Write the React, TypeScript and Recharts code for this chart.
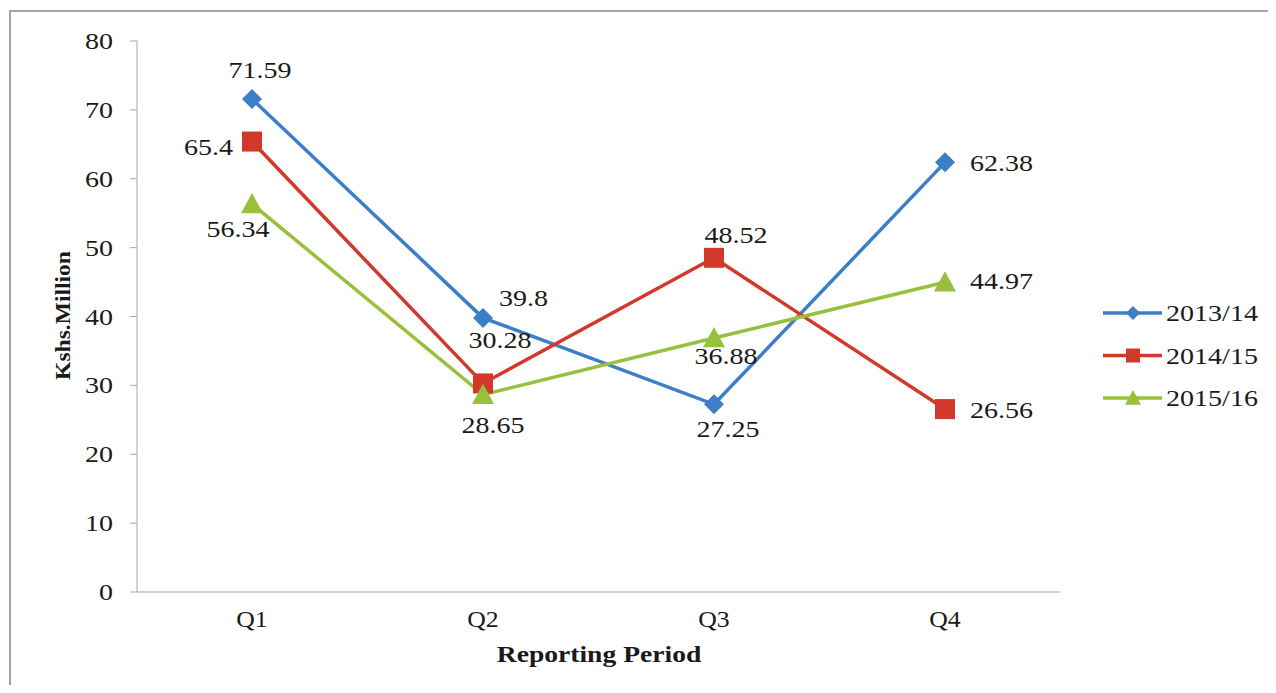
import React from "react";
import { LineChart, Line, XAxis, YAxis, LabelList, Legend } from "recharts";

const quarters = ["Q1", "Q2", "Q3", "Q4"];
const fy1314 = [71.59, 39.8, 27.25, 62.38];
const fy1415 = [65.4, 30.28, 48.52, 26.56];
const fy1516 = [56.34, 28.65, 36.88, 44.97];
const yTicks = [0, 10, 20, 30, 40, 50, 60, 70, 80];

const data = quarters.map((q, i) => ({ q, a: fy1314[i], b: fy1415[i], c: fy1516[i] }));

const BLUE = "#3d7fc6";
const RED = "#d2392b";
const GREEN = "#97c13c";
const INK = "#1a1a1a";
const FONT = "'Liberation Serif', 'Times New Roman', serif";

// label placement per point: [anchor, dx, dy]
type Pos = [string, number, number];
const posA: Pos[] = [["middle", 8, -21], ["start", 16, -12], ["middle", 14, 33], ["start", 25, 9]];
const posB: Pos[] = [["end", -19, 13], ["middle", 17, -35], ["middle", 22, -15], ["start", 25, 9]];
const posC: Pos[] = [["middle", -14, 33], ["middle", 10, 38], ["middle", 12, 26], ["start", 25, 7]];

const SText = ({ x, y, anchor = "start", bold = false, size = 23, sx = 1.22, rotate = 0, children }: any) => (
  <text
    transform={`translate(${x},${y}) rotate(${rotate}) scale(${sx},1)`}
    textAnchor={anchor}
    fontFamily={FONT}
    fontSize={size}
    fontWeight={bold ? "bold" : "normal"}
    fill={INK}
  >
    {children}
  </text>
);

const Diamond = ({ cx, cy, r = 10, color }: any) => (
  <path d={`M${cx},${cy - r} L${cx + r},${cy} L${cx},${cy + r} L${cx - r},${cy} Z`} fill={color} />
);
const Square = ({ cx, cy, r = 10, color }: any) => (
  <rect x={cx - r} y={cy - r} width={r * 2} height={r * 2} fill={color} />
);
const Triangle = ({ cx, cy, r = 11, color }: any) => (
  <path d={`M${cx},${cy - r} L${cx + r},${cy + r * 0.85} L${cx - r},${cy + r * 0.85} Z`} fill={color} />
);

const makeLabel = (pos: Pos[]) => (props: any) => {
  const { x, y, value, index } = props;
  const [anchor, dx, dy] = pos[index];
  return <SText x={x + dx} y={y + dy} anchor={anchor}>{value}</SText>;
};

const YTick = ({ x, y, payload }: any) => (
  <SText x={x} y={y + 8} anchor="end">{payload.value}</SText>
);
const XTick = ({ x, y, payload }: any) => (
  <SText x={x} y={y + 35} anchor="middle" sx={1.12}>{payload.value}</SText>
);

const legendItems = [
  { name: "2013/14", color: BLUE, shape: "d" },
  { name: "2014/15", color: RED, shape: "s" },
  { name: "2015/16", color: GREEN, shape: "t" },
];

const LegendBox = () => (
  <svg width={175} height={130}>
    {legendItems.map((it, i) => {
      const cy = 23 + i * 42.5;
      return (
        <g key={it.name}>
          <line x1={3} x2={62} y1={cy} y2={cy} stroke={it.color} strokeWidth={3.5} />
          {it.shape === "d" && <Diamond cx={33} cy={cy} r={7} color={it.color} />}
          {it.shape === "s" && <Square cx={33} cy={cy} r={7} color={it.color} />}
          {it.shape === "t" && <Triangle cx={33} cy={cy} r={8} color={it.color} />}
          <SText x={66} y={cy + 8}>{it.name}</SText>
        </g>
      );
    })}
  </svg>
);

export default function App() {
  return (
    <div style={{ position: "relative", width: 1268, height: 677 }}>
      <div
        style={{
          position: "absolute", left: 1, top: 2, width: 1267, height: 675,
          borderLeft: "2px solid #a3a3a3", borderTop: "2px solid #a3a3a3", boxSizing: "border-box",
        }}
      />
      <LineChart
        width={1268}
        height={677}
        data={data}
        margin={{ top: 33, right: 216, bottom: 0, left: 0 }}
        style={{ position: "absolute", left: 0, top: 0 }}
      >
        <XAxis
          dataKey="q"
          height={93}
          padding={{ left: 115, right: 115 }}
          axisLine={{ stroke: "#a6a6a6", strokeWidth: 1 }}
          tickLine={false}
          tickSize={0}
          tickMargin={0}
          tick={<XTick />}
          label={() => (
            <SText x={591} y={654} anchor="middle" bold sx={1.2}>Reporting Period</SText>
          )}
        />
        <YAxis
          width={129}
          domain={[0, 80]}
          ticks={yTicks}
          interval={0}
          axisLine={{ stroke: "#a6a6a6", strokeWidth: 1 }}
          tickLine={{ stroke: "#a6a6a6", strokeWidth: 1 }}
          tickSize={7}
          tickMargin={17}
          tick={<YTick />}
          label={() => (
            <SText x={62} y={307.5} anchor="middle" bold size={22} sx={1.07} rotate={-90}>Kshs.Million</SText>
          )}
        />
        <Legend
          layout="vertical"
          align="center"
          verticalAlign="middle"
          content={() => <LegendBox />}
          wrapperStyle={{ left: 1092, top: 282, width: 175, height: 130 }}
        />
        <Line
          dataKey="a"
          name="2013/14"
          stroke={BLUE}
          strokeWidth={3.5}
          isAnimationActive={false}
          dot={(p: any) => <Diamond key={`a${p.index}`} cx={p.cx} cy={p.cy} r={10} color={BLUE} />}
        >
          <LabelList dataKey="a" content={makeLabel(posA)} />
        </Line>
        <Line
          dataKey="b"
          name="2014/15"
          stroke={RED}
          strokeWidth={3.5}
          isAnimationActive={false}
          dot={(p: any) => <Square key={`b${p.index}`} cx={p.cx} cy={p.cy} r={10} color={RED} />}
        >
          <LabelList dataKey="b" content={makeLabel(posB)} />
        </Line>
        <Line
          dataKey="c"
          name="2015/16"
          stroke={GREEN}
          strokeWidth={3.5}
          isAnimationActive={false}
          dot={(p: any) => <Triangle key={`c${p.index}`} cx={p.cx} cy={p.cy} r={11} color={GREEN} />}
        >
          <LabelList dataKey="c" content={makeLabel(posC)} />
        </Line>
      </LineChart>
    </div>
  );
}
